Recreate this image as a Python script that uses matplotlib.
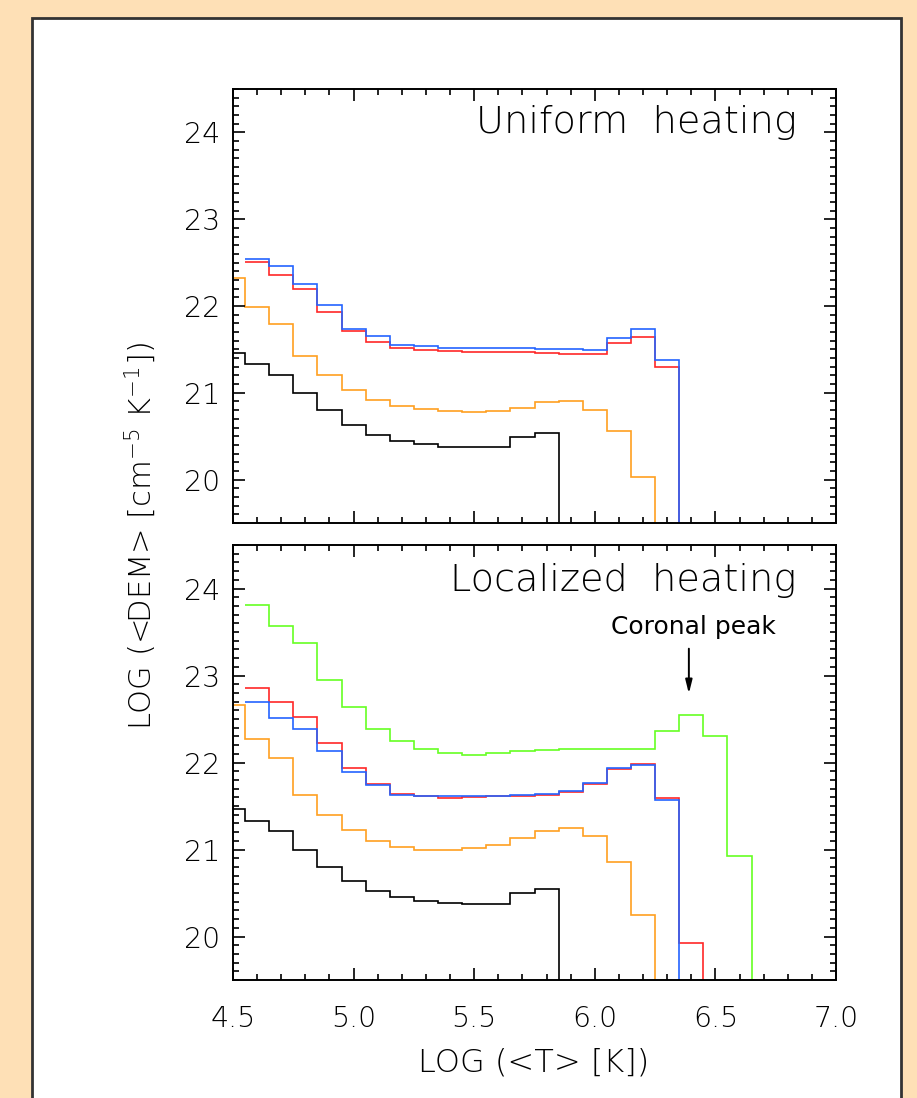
import numpy as np
import matplotlib
matplotlib.use("Agg")
import matplotlib.pyplot as plt
from matplotlib.patches import Rectangle
from matplotlib.ticker import MultipleLocator

plt.rcParams["font.family"] = ["DejaVu Sans"]
plt.rcParams["font.weight"] = 200          # DejaVu Sans ExtraLight, close to the thin IDL lettering
plt.rcParams["mathtext.fontset"] = "custom"
plt.rcParams["mathtext.rm"] = "DejaVu Sans:light"
plt.rcParams["mathtext.default"] = "regular"

# bin centres, log T [K]
LOGT = [4.5, 4.6, 4.7, 4.8, 4.9, 5.0, 5.1, 5.2, 5.3, 5.4, 5.5, 5.6,
        5.7, 5.8, 5.9, 6.0, 6.1, 6.2, 6.3, 6.4, 6.5, 6.6, 6.7]
N = np.nan

# uniform heating
UNI_BLACK = [21.46, 21.33, 21.21, 21.00, 20.80, 20.63, 20.51, 20.44, 20.41, 20.38, 20.37, 20.37,
             20.49, 20.54]
UNI_ORANGE = [22.32, 21.99, 21.79, 21.42, 21.20, 21.03, 20.92, 20.85, 20.81, 20.79, 20.78, 20.79,
              20.83, 20.89, 20.91, 20.80, 20.56, 20.03]
UNI_RED = [N, 22.51, 22.36, 22.20, 21.93, 21.71, 21.59, 21.52, 21.49, 21.48, 21.47, 21.47,
           21.47, 21.46, 21.45, 21.45, 21.57, 21.64, 21.30]
UNI_BLUE = [N, 22.54, 22.46, 22.25, 22.01, 21.74, 21.65, 21.55, 21.54, 21.52, 21.52, 21.52,
            21.52, 21.51, 21.50, 21.49, 21.63, 21.73, 21.38]

# localized heating
LOC_BLACK = [21.46, 21.33, 21.21, 21.00, 20.80, 20.64, 20.52, 20.45, 20.41, 20.39, 20.37, 20.37,
             20.50, 20.55]
LOC_ORANGE = [22.66, 22.27, 22.05, 21.63, 21.40, 21.22, 21.10, 21.03, 21.00, 21.00, 21.02, 21.05,
              21.13, 21.21, 21.25, 21.15, 20.86, 20.25]
LOC_RED = [N, 22.86, 22.69, 22.52, 22.22, 21.94, 21.75, 21.64, 21.61, 21.59, 21.60, 21.61,
           21.62, 21.63, 21.66, 21.75, 21.93, 21.98, 21.59, 19.93]
LOC_BLUE = [N, 22.69, 22.51, 22.38, 22.13, 21.89, 21.74, 21.63, 21.62, 21.61, 21.61, 21.62,
            21.63, 21.64, 21.67, 21.77, 21.94, 21.97, 21.57]
LOC_GREEN = [N, 23.81, 23.57, 23.37, 22.95, 22.64, 22.39, 22.25, 22.16, 22.11, 22.09, 22.11,
             22.13, 22.14, 22.15, 22.16, 22.15, 22.15, 22.36, 22.55, 22.31, 20.92]

COLORS = {"black": "black", "orange": "#FFA020", "red": "#FF2828",
          "blue": "#2464FF", "green": "#66FF22"}
YLIM = (19.5, 24.5)
XLIM = (4.5, 7.0)
BG = "#FEE0B6"


def hist(ax, vals, color):
    v = np.array(vals, dtype=float)
    t = np.array(LOGT[:len(v)])
    keep = ~np.isnan(v)
    v, t = v[keep], t[keep]
    # drop to zero past the last filled bin
    v = np.append(v, YLIM[0] - 5)
    t = np.append(t, t[-1] + 0.1)
    edges = np.append(t - 0.05, t[-1] + 0.05)
    ax.stairs(v, edges, baseline=None, color=color, lw=1.2)


def style(ax, labels_x):
    ax.set_xlim(*XLIM)
    ax.set_ylim(*YLIM)
    ax.xaxis.set_major_locator(MultipleLocator(0.5))
    ax.xaxis.set_minor_locator(MultipleLocator(0.1))
    ax.yaxis.set_major_locator(MultipleLocator(1))
    ax.yaxis.set_minor_locator(MultipleLocator(0.1))
    ax.tick_params(which="both", direction="in", top=True, right=True, width=1.2)
    ax.tick_params(which="major", length=8.5, labelsize=20.5, pad=9)
    ax.tick_params(which="minor", length=4.3)
    ax.tick_params(axis="x", pad=18)
    for s in ax.spines.values():
        s.set_linewidth(1.4)
    if labels_x:
        ax.set_xticks([4.5, 5.0, 5.5, 6.0, 6.5, 7.0])
        ax.set_xticklabels(["4.5", "5.0", "5.5", "6.0", "6.5", "7.0"])
    else:
        ax.tick_params(axis="x", labelbottom=False)


fig = plt.figure(figsize=(9.17, 10.98), dpi=100, facecolor=BG)
fig.patches.append(Rectangle((32 / 917, -0.01), (901 - 32) / 917, 1 - 18 / 1098 + 0.01,
                             transform=fig.transFigure, facecolor="white",
                             edgecolor="#333333", lw=2.0, zorder=-5))

ax1 = fig.add_axes([233 / 917, 1 - 523 / 1098, 603 / 917, 434 / 1098])
ax2 = fig.add_axes([233 / 917, 1 - 980 / 1098, 603 / 917, 435 / 1098])
for ax in (ax1, ax2):
    ax.set_facecolor("none")

for vals, c in [(UNI_BLACK, "black"), (UNI_ORANGE, "orange"), (UNI_RED, "red"), (UNI_BLUE, "blue")]:
    hist(ax1, vals, COLORS[c])
for vals, c in [(LOC_BLACK, "black"), (LOC_ORANGE, "orange"), (LOC_RED, "red"),
                (LOC_BLUE, "blue"), (LOC_GREEN, "green")]:
    hist(ax2, vals, COLORS[c])

style(ax1, False)
style(ax2, True)

ax1.text(0.935, 0.899, "Uniform  heating", transform=ax1.transAxes, ha="right",
         va="baseline", fontsize=27.5)
ax2.text(0.935, 0.894, "Localized  heating", transform=ax2.transAxes, ha="right",
         va="baseline", fontsize=27.5)

ax2.annotate("", xy=(6.39, 22.76), xytext=(6.39, 23.34),
             arrowprops=dict(arrowstyle="-|>,head_length=0.8,head_width=0.2", color="black", lw=1.4))
ax2.text(6.41, 23.56, "Coronal peak", ha="center", va="center", fontsize=18,
         weight="normal")

fig.text(534 / 917, 1 - 1062 / 1098, "LOG (<T> [K])", ha="center", va="center", fontsize=23)
fig.text(140 / 917, 1 - 536 / 1098, r"LOG (<DEM> [cm$^{-5}$ K$^{-1}$])",
         ha="center", va="center", rotation=90, fontsize=22)

fig.savefig("out.png", dpi=100, facecolor=BG)
